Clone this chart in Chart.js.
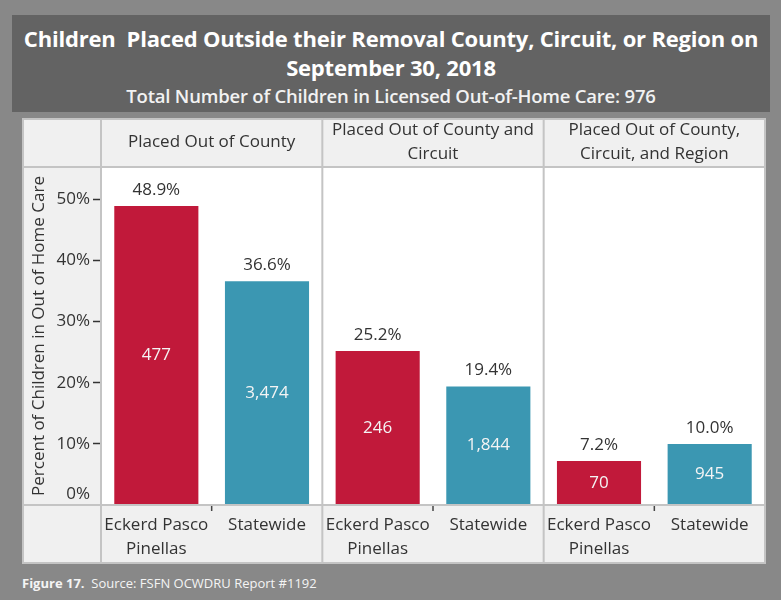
<!DOCTYPE html>
<html lang="en">
<head>
  <meta charset="UTF-8" />
  <title>Children Placed Outside their Removal County, Circuit, or Region</title>
  <script src="https://cdn.jsdelivr.net/npm/chart.js"></script>
  <style>
    body {
      margin: 0;
      background-color: #888888;
      font-family: "Open Sans", sans-serif;
      width: 781px;
      height: 600px;
      position: relative;
      overflow: hidden;
    }
    .title-box {
      position: absolute;
      left: 12px;
      top: 15px;
      width: 758px;
      height: 97px;
      background-color: #636363;
      color: #fff;
      text-align: center;
    }
    .title-box .t1 {
      font-weight: bold;
      font-size: 22px;
      line-height: 29px;
      padding-top: 9px;
      letter-spacing: -0.2px;
    }
    .title-box .t2 {
      font-weight: 600;
      font-size: 18.5px;
      line-height: 27px;
      color: #f2f2f2;
      letter-spacing: -0.2px;
    }
    .panel {
      position: absolute;
      left: 22px;
      top: 118px;
      width: 744px;
      height: 446px;
      background-color: #f0f0f0;
    }
    .caption {
      position: absolute;
      left: 22px;
      top: 574px;
      font-size: 13px;
      color: #f4f4f4;
    }
  </style>
</head>
<body>
  <div class="title-box">
    <div class="t1">Children&nbsp; Placed Outside their Removal County, Circuit, or Region on<br>September 30, 2018</div>
    <div class="t2">Total Number of Children in Licensed Out-of-Home Care: 976</div>
  </div>
  <div class="panel">
    <canvas id="barChart" width="744" height="446"></canvas>
  </div>
  <div class="caption"><b>Figure 17.</b>&nbsp; Source: FSFN OCWDRU Report #1192</div>

  <script>
    // panel headers (one per pair of bars)
    const panels = [
      ['Placed Out of County'],
      ['Placed Out of County and', 'Circuit'],
      ['Placed Out of County,', 'Circuit, and Region']
    ];
    const groupLabels = [
      ['Eckerd Pasco', 'Pinellas'], ['Statewide'],
      ['Eckerd Pasco', 'Pinellas'], ['Statewide'],
      ['Eckerd Pasco', 'Pinellas'], ['Statewide']
    ];
    const percents = [48.9, 36.6, 25.2, 19.4, 7.2, 10.0];
    const counts = [477, 3474, 246, 1844, 70, 945];
    const yTicks = [0, 10, 20, 30, 40, 50];

    const RED = '#c1193a';
    const TEAL = '#3b97b2';
    const LINE = '#c4c4c4';
    const TEXT = '#333333';
    const FONT = '"Open Sans", sans-serif';
    const SIZE = 17;

    const frame = {
      id: 'frame',
      beforeDraw(chart) {
        const { ctx, chartArea: a, width, height } = chart;
        ctx.save();
        ctx.fillStyle = '#f0f0f0';
        ctx.fillRect(0, 0, width, height);
        ctx.fillStyle = '#ffffff';
        ctx.fillRect(a.left, a.top, a.right - a.left, a.bottom - a.top);
        ctx.restore();
      },
      afterDraw(chart) {
        const { ctx, chartArea: a, width, height } = chart;
        const xs = chart.scales.x;
        const ys = chart.scales.y;
        ctx.save();
        ctx.strokeStyle = LINE;
        ctx.lineWidth = 2;
        ctx.strokeRect(1, 1, width - 2, height - 2);
        ctx.beginPath();
        ctx.moveTo(0, a.top); ctx.lineTo(width, a.top);
        ctx.moveTo(0, a.bottom); ctx.lineTo(width, a.bottom);
        ctx.moveTo(a.left, 0); ctx.lineTo(a.left, height);
        const step = (a.right - a.left) / percents.length;
        for (let p = 1; p < panels.length; p++) {
          const x = a.left + step * 2 * p;
          ctx.moveTo(x, 0); ctx.lineTo(x, height);
        }
        ctx.stroke();

        // small ticks between the two bars of each panel
        ctx.strokeStyle = '#444';
        ctx.lineWidth = 1.5;
        ctx.beginPath();
        for (let p = 0; p < panels.length; p++) {
          const x = (xs.getPixelForValue(p * 2) + xs.getPixelForValue(p * 2 + 1)) / 2;
          ctx.moveTo(x, a.bottom + 1); ctx.lineTo(x, a.bottom + 6);
        }
        ctx.stroke();

        // the 0% label sits just above the axis line
        ctx.fillStyle = TEXT;
        ctx.font = SIZE + 'px ' + FONT;
        ctx.textAlign = 'right';
        ctx.textBaseline = 'middle';
        ctx.fillText(yTicks[0] + '%', a.left - 11, ys.getPixelForValue(yTicks[0]) - 11);

        // panel headers
        ctx.textAlign = 'center';
        panels.forEach((lines, p) => {
          const cx = a.left + step * (2 * p + 1);
          const cy = a.top / 2;
          lines.forEach((t, i) => {
            ctx.fillText(t, cx, cy + (i - (lines.length - 1) / 2) * 24);
          });
        });

        // value labels
        const meta = chart.getDatasetMeta(0);
        meta.data.forEach((bar, i) => {
          ctx.fillStyle = TEXT;
          ctx.textBaseline = 'middle';
          ctx.fillText(percents[i].toFixed(1) + '%', bar.x, bar.y - 16);
          ctx.fillStyle = '#f4f4f4';
          ctx.fillText(counts[i].toLocaleString('en-US'), bar.x, (bar.y + bar.base) / 2);
        });
        ctx.restore();
      }
    };

    new Chart(document.getElementById('barChart'), {
      type: 'bar',
      data: {
        labels: groupLabels,
        datasets: [{
          data: percents,
          backgroundColor: percents.map((v, i) => i % 2 === 0 ? RED : TEAL),
          borderWidth: 0,
          barPercentage: 0.76,
          categoryPercentage: 1.0
        }]
      },
      options: {
        responsive: false,
        animation: false,
        layout: { padding: { top: 49, right: 1, left: 0, bottom: 0 } },
        plugins: {
          legend: { display: false },
          tooltip: { enabled: false }
        },
        scales: {
          x: {
            grid: { display: false },
            border: { display: false },
            ticks: {
              color: TEXT,
              font: { family: FONT, size: SIZE, lineHeight: 1.4 },
              maxRotation: 0,
              autoSkip: false,
              padding: 0
            },
            afterFit(scale) { scale.height = 59; }
          },
          y: {
            min: 0,
            max: 55.3,
            afterBuildTicks(scale) { scale.ticks = yTicks.map(v => ({ value: v })); },
            grid: {
              drawOnChartArea: false,
              tickLength: 8,
              tickColor: ctx => ctx.tick && ctx.tick.value === 0 ? 'rgba(0,0,0,0)' : '#333',
              tickWidth: 1.5
            },
            border: { display: false },
            ticks: {
              color: TEXT,
              font: { family: FONT, size: SIZE },
              padding: 3,
              callback: v => v === 0 ? '' : v + '%'
            },
            title: {
              display: true,
              text: 'Percent of Children in Out of Home Care',
              color: TEXT,
              font: { family: FONT, size: SIZE },
              padding: { top: 7, bottom: 0 }
            },
            afterFit(scale) { scale.width = 79; }
          }
        }
      },
      plugins: [frame]
    });
  </script>
</body>
</html>
